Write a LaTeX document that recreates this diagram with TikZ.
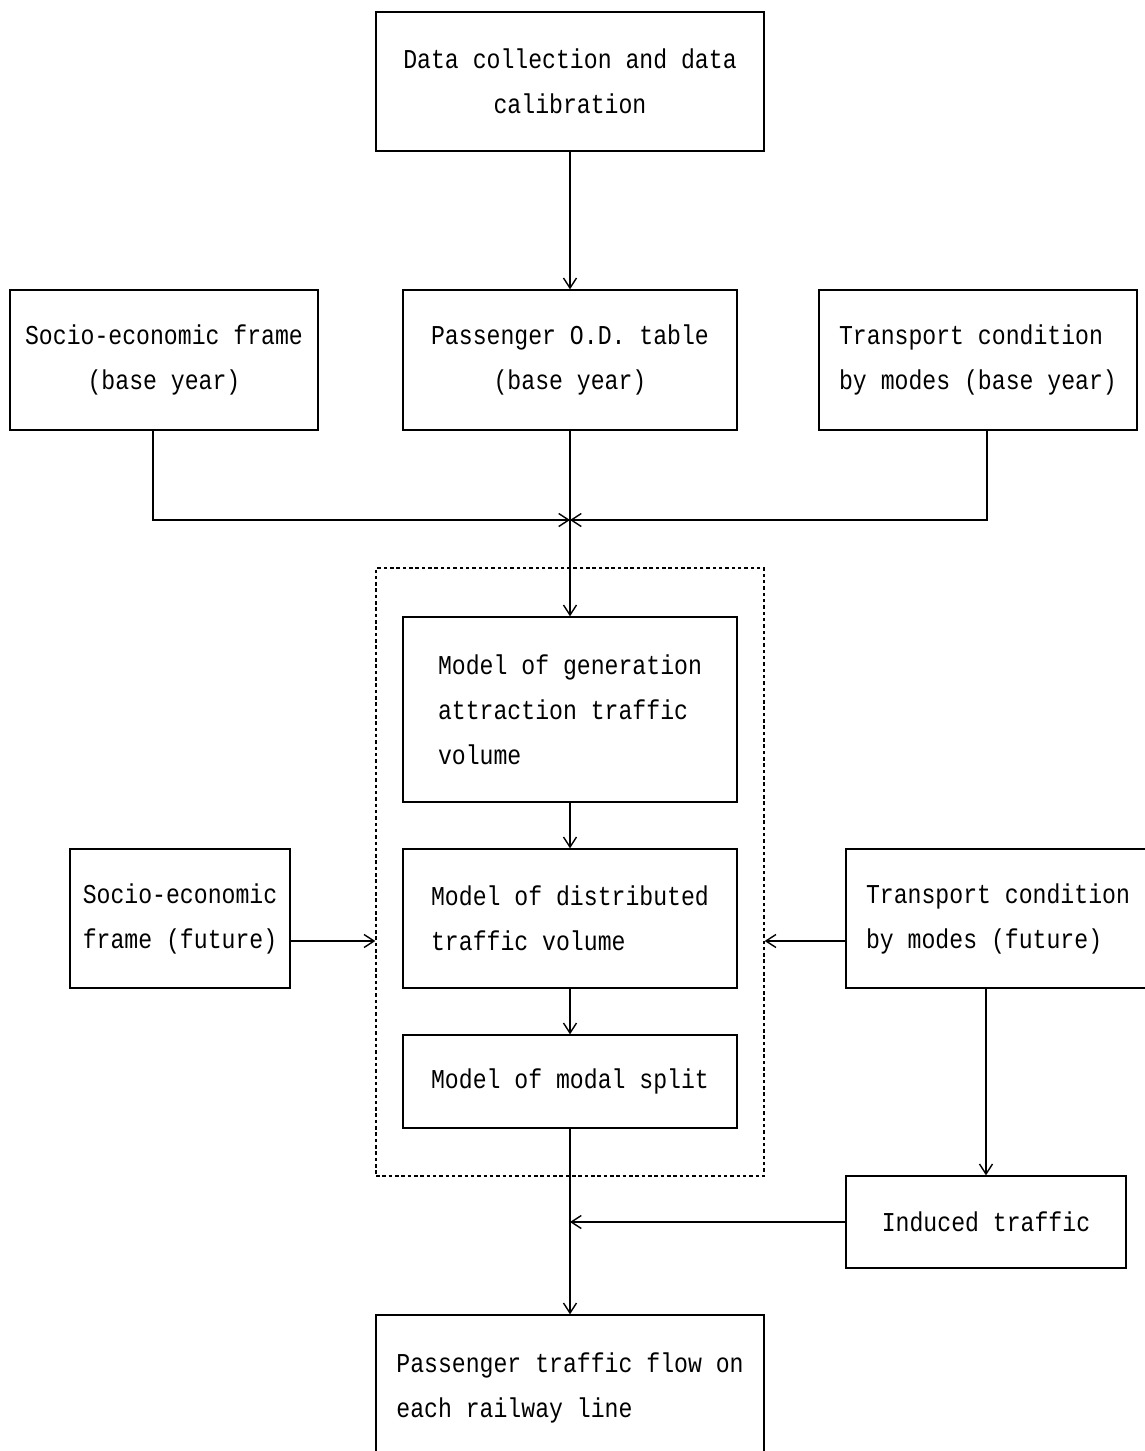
\documentclass[tikz,border=0pt]{standalone}
\usepackage{fontspec}
\usepackage{tikz}
\usetikzlibrary{arrows.meta}
\newfontfamily\figfont[FakeStretch=0.85]{Liberation Mono}

\begin{document}
\begin{tikzpicture}[x=0.02cm,y=-0.02cm,
    box/.style={draw=black,line width=0.8pt,rectangle,inner sep=0pt,align=left,
      font=\figfont\fontsize{15.5}{25.6}\selectfont},
    cbox/.style={box,align=center},
    dotbox/.style={draw=black,line width=0.8pt,dash pattern=on 2pt off 1.6pt,rectangle,inner sep=0pt},
    arr/.style={line width=0.8pt,-{Straight Barb[length=2mm,width=2.6mm]}}]
    \useasboundingbox (0,0) rectangle (1144,1451);
    \node [cbox,minimum width=7.76cm,minimum height=2.78cm] (data) at (570,81.5) {Data collection and data\\calibration};
    \node [cbox,minimum width=6.16cm,minimum height=2.8cm] (sefb) at (164,360) {Socio-economic frame\\(base year)};
    \node [cbox,minimum width=6.68cm,minimum height=2.8cm] (odb) at (570,360) {Passenger O.D. table\\(base year)};
    \node [box,minimum width=6.36cm,minimum height=2.8cm] (tcb) at (978,360) {Transport condition\\by modes (base year)};
    \node [dotbox,minimum width=7.76cm,minimum height=12.16cm] (frame) at (570,872) {};
    \node [box,minimum width=6.68cm,minimum height=3.7cm] (gen) at (570,709.5) {Model of generation\\attraction traffic\\volume};
    \node [box,minimum width=6.68cm,minimum height=2.78cm] (dist) at (570,918.5) {Model of distributed\\traffic volume};
    \node [box,minimum width=6.68cm,minimum height=1.86cm] (modal) at (570,1081.5) {Model of modal split};
    \node [box,minimum width=4.4cm,minimum height=2.78cm] (seff) at (180,918.5) {Socio-economic\\frame (future)};
    \node [box,minimum width=6.08cm,minimum height=2.78cm] (tcf) at (998,918.5) {Transport condition\\by modes (future)};
    \node [box,minimum width=5.6cm,minimum height=1.84cm] (ind) at (986,1222) {Induced traffic};
    \node [box,minimum width=7.76cm,minimum height=2.9cm] (final) at (570,1387.5) {Passenger traffic flow on\\each railway line};
    \coordinate (junc) at (570,520);
    \draw [arr] (data) -- (odb);
    \draw [arr] ([xshift=-0.22cm]sefb.south) |- (junc);
    \draw [arr] ([xshift=0.18cm]tcb.south) |- (junc);
    \draw [arr] (odb.south) -- (gen.north);
    \draw [arr] (gen) -- (dist);
    \draw [arr] (dist) -- (modal);
    \draw [arr] ([yshift=-0.45cm]seff.east) -- ([yshift=-0.45cm]seff.east -| frame.west);
    \draw [arr] ([yshift=-0.45cm]tcf.west) -- ([yshift=-0.45cm]tcf.west -| frame.east);
    \draw [arr] (tcf.south -| ind.north) -- (ind.north);
    \draw [arr] (modal) -- (final);
    \draw [arr] (ind.west) -- (ind.west -| final.north);
\end{tikzpicture}
\end{document}
